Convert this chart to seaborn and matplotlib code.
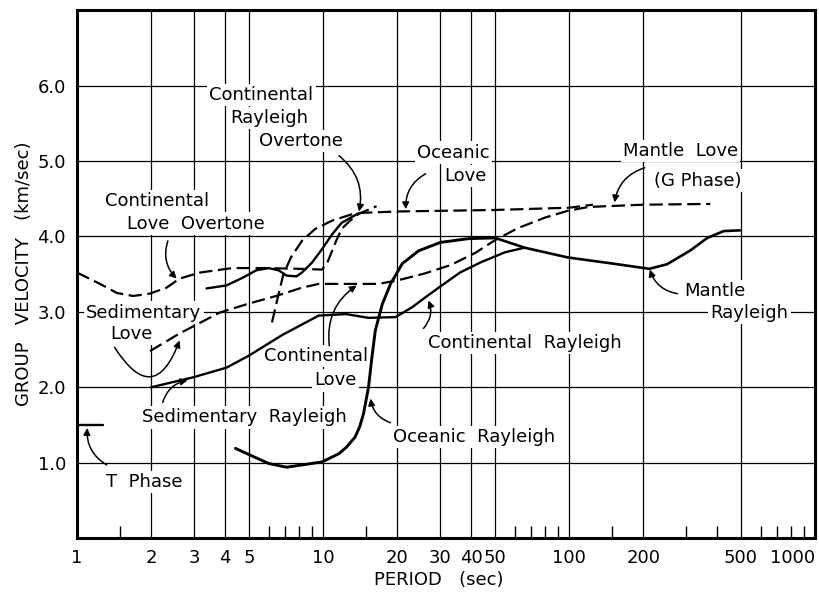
import numpy as np
import pandas as pd
import matplotlib
matplotlib.use("Agg")
import matplotlib.pyplot as plt
from matplotlib.ticker import FixedLocator, NullFormatter
import seaborn as sns

# ---- data (period in sec, group velocity in km/sec) ----
t_phase_x = [1.0, 1.27]
t_phase_y = [1.5, 1.5]

cont_love_ot_x = [1.0, 1.24, 1.45, 1.69, 1.97, 2.31, 2.61, 3.15, 4.28, 5.88, 8.0, 9.9,
                  10.4, 10.8, 11.3, 11.9, 12.9, 14.0, 16.5]
cont_love_ot_y = [3.52, 3.37, 3.25, 3.21, 3.24, 3.32, 3.44, 3.52, 3.58, 3.58, 3.57, 3.56,
                  3.65, 3.78, 3.94, 4.10, 4.21, 4.30, 4.40]

cont_ray_ot_x = [6.2, 6.5, 6.9, 7.4, 8.2, 9.3, 10.9, 13.6]
cont_ray_ot_y = [2.86, 3.15, 3.50, 3.72, 3.94, 4.10, 4.21, 4.31]

overtone_solid_x = [3.36, 4.05, 4.7, 5.35, 6.0, 6.6, 7.1, 7.8, 8.2, 9.0, 9.9, 10.9, 11.9, 14.0]
overtone_solid_y = [3.31, 3.35, 3.45, 3.55, 3.58, 3.55, 3.48, 3.47, 3.52, 3.65, 3.83, 4.03, 4.18, 4.31]

oceanic_love_x = [14.0, 20.0, 50.0, 100.0, 125.0]
oceanic_love_y = [4.31, 4.33, 4.35, 4.38, 4.42]

# sedimentary -> continental -> mantle love (one dashed branch)
love_x = [1.98, 2.6, 3.8, 5.0, 6.45, 8.2, 9.6, 13.5, 16.8, 20.3, 26, 33, 41.5, 50, 62, 80,
          99, 120, 200, 375]
love_y = [2.48, 2.71, 2.99, 3.11, 3.21, 3.32, 3.37, 3.37, 3.37, 3.42, 3.51, 3.62, 3.78, 3.95,
          4.11, 4.25, 4.34, 4.39, 4.42, 4.43]

# sedimentary -> continental rayleigh
cont_ray_x = [2.0, 2.95, 4.05, 5.0, 6.8, 9.6, 12.4, 15.3, 19.7, 23, 26, 29.5, 36, 44, 55, 66]
cont_ray_y = [2.0, 2.13, 2.26, 2.42, 2.69, 2.95, 2.97, 2.92, 2.93, 3.06, 3.19, 3.32, 3.52,
              3.66, 3.79, 3.85]

oceanic_ray_x = [4.4, 6.0, 7.1, 8.2, 9.9, 11.6, 12.4, 13.5, 14.1, 14.6, 15.3, 15.8, 16.3,
                 17.4, 18.8, 21, 24.5, 30, 39, 50]
oceanic_ray_y = [1.19, 0.99, 0.94, 0.97, 1.01, 1.12, 1.20, 1.34, 1.48, 1.65, 2.0, 2.4, 2.75,
                 3.1, 3.37, 3.64, 3.81, 3.92, 3.97, 3.98]

mantle_ray_x = [50, 66, 99, 150, 212, 250, 310, 365, 425, 495]
mantle_ray_y = [3.98, 3.85, 3.72, 3.64, 3.57, 3.63, 3.81, 3.98, 4.07, 4.08]

x_major = [1, 2, 3, 4, 5, 10, 20, 30, 40, 50, 100, 200, 500, 1000]
x_labels = ["1", "2", "3", "4", "5", "10", "20", "30", "40", "50", "100", "200", "500", "1000"]
x_minor = [1.5, 6, 7, 8, 9, 15, 60, 70, 80, 90, 150, 300, 400, 600, 700, 800, 900]
y_major = [1, 2, 3, 4, 5, 6]
y_labels = ["1.0", "2.0", "3.0", "4.0", "5.0", "6.0"]

# text labels: (text, period, velocity)
labels = [
    ("Continental", 5.61, 5.87), ("Rayleigh", 6.04, 5.57), ("Overtone", 8.15, 5.26),
    ("Continental", 2.11, 4.47), ("Love  Overtone", 3.03, 4.17),
    ("Oceanic", 33.9, 5.11), ("Love", 37.9, 4.80),
    ("Mantle  Love", 284, 5.13), ("(G Phase)", 333, 4.74),
    ("Mantle", 390, 3.28), ("Rayleigh", 541, 2.98),
    ("Sedimentary", 1.87, 2.99), ("Love", 1.67, 2.71),
    ("Continental", 9.37, 2.41), ("Love", 11.2, 2.09),
    ("Sedimentary  Rayleigh", 4.79, 1.60),
    ("Continental  Rayleigh", 66.3, 2.59),
    ("Oceanic  Rayleigh", 40.9, 1.34),
    ("T  Phase", 1.87, 0.74),
]
# pointer arrows: (start, tip, curvature)
arrows = [
    ((11.6, 5.07), (14.0, 4.33), -0.3),
    ((2.34, 3.94), (2.54, 3.44), 0.3),
    ((26.1, 4.83), (21.7, 4.36), 0.3),
    ((203, 4.91), (153, 4.45), 0.3),
    ((276, 3.24), (213, 3.56), -0.3),
    ((1.42, 2.53), (2.61, 2.62), 1.0),
    ((10.6, 2.55), (13.7, 3.35), -0.3),
    ((2.23, 1.80), (2.81, 2.09), -0.3),
    ((25.6, 2.78), (26.8, 3.15), 0.3),
    ((18.8, 1.53), (15.6, 1.85), -0.3),
    ((1.32, 0.97), (1.1, 1.46), -0.3),
]

sns.set_style("white")
plt.rcParams["font.family"] = ["DejaVu Sans"]
plt.rcParams["text.color"] = "black"
plt.rcParams["axes.labelcolor"] = "black"
plt.rcParams["xtick.color"] = "black"
plt.rcParams["ytick.color"] = "black"

fig = plt.figure(figsize=(8.2, 5.92), dpi=100)
ax = fig.add_axes([0.094, 0.091, 0.9, 0.892])
ax.set_xscale("log")

dash = (0, (6, 2.5))
curves = [
    (t_phase_x, t_phase_y, "-", 1.7),
    (cont_love_ot_x, cont_love_ot_y, dash, 1.6),
    (cont_ray_ot_x, cont_ray_ot_y, dash, 1.6),
    (overtone_solid_x, overtone_solid_y, "-", 1.7),
    (oceanic_love_x, oceanic_love_y, dash, 1.6),
    (love_x, love_y, dash, 1.6),
    (cont_ray_x, cont_ray_y, "-", 1.7),
    (oceanic_ray_x, oceanic_ray_y, "-", 2.1),
    (mantle_ray_x, mantle_ray_y, "-", 1.9),
]
for xs, ys, ls, lw in curves:
    df = pd.DataFrame({"period": xs, "velocity": ys})
    sns.lineplot(data=df, x="period", y="velocity", ax=ax, sort=False, estimator=None,
                 color="black", linestyle=ls, linewidth=lw, zorder=3)

for txt, x, y in labels:
    ax.text(x, y, txt, ha="center", va="center", fontsize=13, color="black", zorder=2,
            bbox=dict(facecolor="white", edgecolor="none", pad=1.5))

for start, tip, rad in arrows:
    ax.annotate("", xy=tip, xytext=start, zorder=4,
                arrowprops=dict(arrowstyle="-|>", color="black", lw=1.1,
                                mutation_scale=10, shrinkA=0, shrinkB=0,
                                connectionstyle=f"arc3,rad={rad}"))

ax.set_xlim(1, 1000)
ax.set_ylim(0, 7)
ax.xaxis.set_major_locator(FixedLocator(x_major))
ax.set_xticklabels(x_labels)
ax.xaxis.set_minor_locator(FixedLocator(x_minor))
ax.xaxis.set_minor_formatter(NullFormatter())
ax.set_yticks(y_major)
ax.set_yticklabels(y_labels)
labs = ax.get_xticklabels()
labs[-1].set_horizontalalignment("right")

ax.set_axisbelow(True)
ax.grid(True, which="major", color="black", linewidth=0.9)
ax.tick_params(axis="both", which="major", length=0, labelsize=13, pad=8)
ax.tick_params(axis="x", which="minor", direction="in", length=9, width=1.0,
               color="black", bottom=True, top=False)
for sp in ax.spines.values():
    sp.set_linewidth(2.2)
    sp.set_color("black")

ax.set_xlabel("PERIOD   (sec)", fontsize=13)
ax.set_ylabel("GROUP   VELOCITY   (km/sec)", fontsize=13)
ax.xaxis.set_label_coords(0.49, -0.062)
ax.yaxis.set_label_coords(-0.06, 0.5)

fig.savefig("out.png", dpi=100)
